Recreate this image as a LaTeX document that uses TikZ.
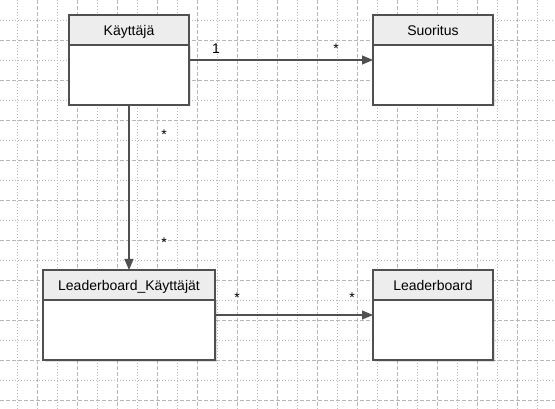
\documentclass[tikz,border=0pt]{standalone}
\usepackage{fontspec}
\setmainfont{Liberation Sans}
\usetikzlibrary{positioning, arrows.meta, shadows}
\definecolor{umlline}{HTML}{505050}
\definecolor{umlhead}{HTML}{EDEDED}
\definecolor{gridc}{HTML}{B8B8B8}

\begin{document}
\begin{tikzpicture}[x=1pt, y=-1pt,
  head/.style={draw=umlline, line width=1.2pt, fill=umlhead, minimum height=30pt,
    inner sep=0pt, outer sep=0pt, text height=11pt, text depth=0pt,
    font=\fontsize{14}{16}\selectfont},
  body/.style={draw=umlline, line width=1.2pt, fill=white, minimum height=60pt,
    inner sep=0pt, outer sep=0pt,
    drop shadow={shadow xshift=1.5pt, shadow yshift=-1.5pt, opacity=0.12, fill=black}},
  assoc/.style={draw=umlline, line width=1.2pt, -{Triangle[length=11pt, width=9pt]}},
  mult/.style={font=\fontsize{14}{16}\selectfont, anchor=base, inner sep=0pt},
  majorgrid/.style={draw=gridc, line width=0.9pt, dash pattern=on 4pt off 2pt},
  minorgrid/.style={draw=gridc, line width=0.9pt, dash pattern=on 1pt off 2pt}]
\useasboundingbox (0,0) rectangle (555,409);
\fill[white] (0,0) rectangle (555,409);

% grid
\foreach \y in {20,60,...,380} \draw[minorgrid] (0,\y) -- (555,\y);
\foreach \y in {40,80,...,400} \draw[majorgrid] (0,\y) -- (555,\y);
\foreach \x in {17,57,...,537} \draw[minorgrid] (\x,0) -- (\x,409);
\foreach \x in {37,77,...,517} \draw[majorgrid] (\x,0) -- (\x,409);

% classes
\node[head, minimum width=120pt] (user) at (129,30) {Käyttäjä};
\node[body, minimum width=120pt, below=0pt of user] (userb) {};
\node[head, minimum width=120pt] (suor) at (433,30) {Suoritus};
\node[body, minimum width=120pt, below=0pt of suor] (suorb) {};
\node[head, minimum width=172pt] (lbu) at (129,285) {Leaderboard\_Käyttäjät};
\node[body, minimum width=172pt, below=0pt of lbu] (lbub) {};
\node[head, minimum width=120pt] (lb) at (433,285) {Leaderboard};
\node[body, minimum width=120pt, below=0pt of lb] (lbb) {};

% associations
\draw[assoc] ([yshift=-15pt]userb.north east) -- ([yshift=-15pt]suorb.north west);
\draw[assoc] (userb.south) -- (lbu.north);
\draw[assoc] ([yshift=-15pt]lbub.north east) -- ([yshift=-15pt]lbb.north west);

% multiplicities
\node[mult] (m1) at (216,54) {1};
\node[mult] (m2) at (336,54) {*};
\node[mult] (m3) at (164,140) {*};
\node[mult] (m4) at (164,248) {*};
\node[mult] (m5) at (237,302) {*};
\node[mult] (m6) at (352,302) {*};
\end{tikzpicture}
\end{document}
